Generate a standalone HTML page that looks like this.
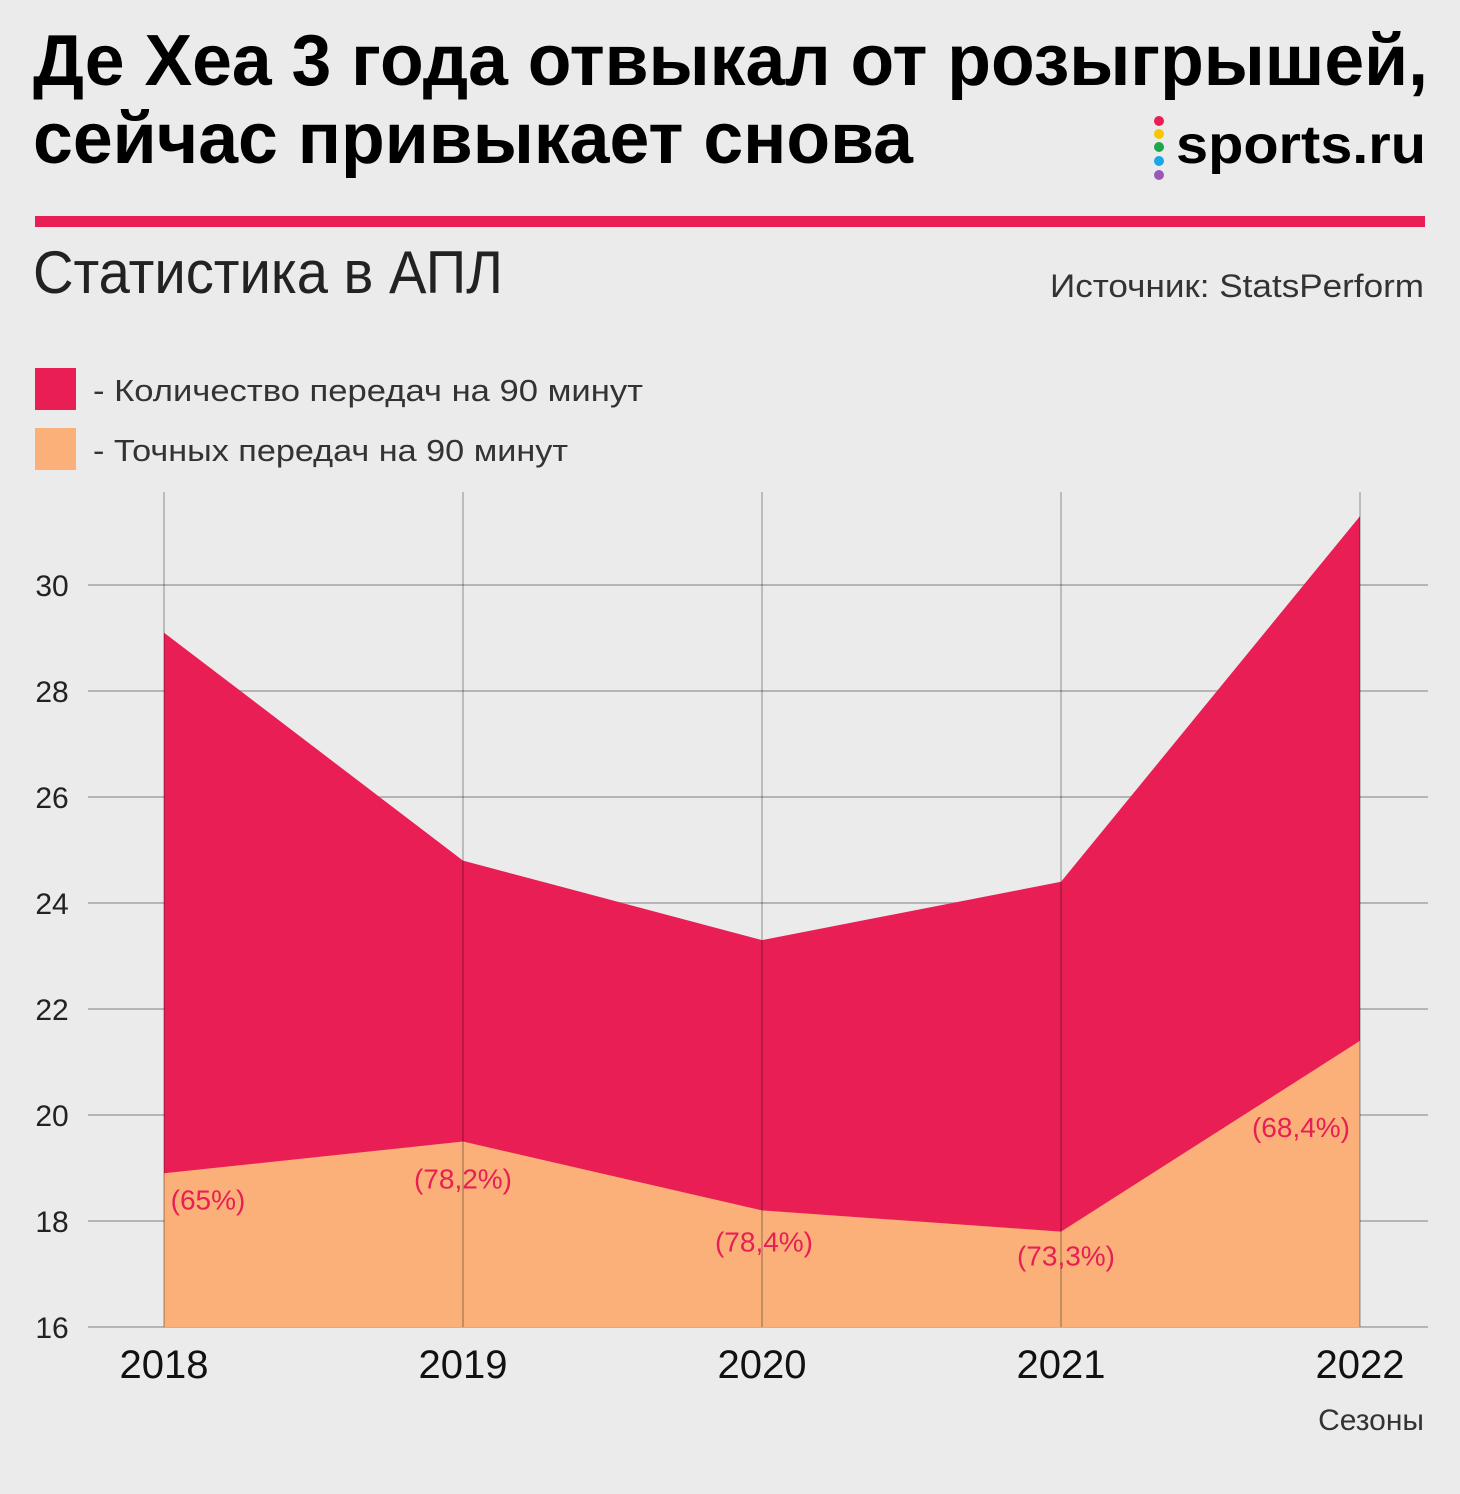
<!DOCTYPE html>
<html><head><meta charset="utf-8"><style>
html,body{margin:0;padding:0;background:#ebebeb;}
svg{display:block;font-family:"Liberation Sans","DejaVu Sans",sans-serif;}
</style></head><body>
<svg id="chart" width="1460" height="1494" viewBox="0 0 1460 1494">
<rect width="1460" height="1494" fill="#ebebeb"/>
<text x="33" y="85" font-size="72" font-weight="bold" textLength="1395" lengthAdjust="spacingAndGlyphs" fill="#000">Де Хеа 3 года отвыкал от розыгрышей,</text>
<text x="33" y="163" font-size="72" font-weight="bold" textLength="880" lengthAdjust="spacingAndGlyphs" fill="#000">сейчас привыкает снова</text>
<g>
<circle cx="1159" cy="121" r="5" fill="#e81e55"/><circle cx="1159" cy="134" r="5" fill="#f7c600"/><circle cx="1159" cy="147" r="5" fill="#1fa64a"/><circle cx="1159" cy="161" r="5" fill="#1aa7e8"/><circle cx="1159" cy="175" r="5" fill="#9b59b6"/>
<text x="1176" y="163" font-size="54" font-weight="bold" textLength="250" lengthAdjust="spacingAndGlyphs" fill="#000">sports.ru</text>
</g>
<rect x="35" y="216" width="1390" height="11" fill="#e81e55"/>
<text x="33" y="293" font-size="60" textLength="470" lengthAdjust="spacingAndGlyphs" fill="#222">Статистика в АПЛ</text>
<text x="1050" y="297" font-size="32" textLength="374" lengthAdjust="spacingAndGlyphs" fill="#333">Источник: StatsPerform</text>
<rect x="35" y="368" width="41" height="42" fill="#e81e55"/>
<text x="93" y="401" font-size="31" textLength="550" lengthAdjust="spacingAndGlyphs" fill="#333">- Количество передач на 90 минут</text>
<rect x="35" y="428" width="41" height="42" fill="#fbb07a"/>
<text x="93" y="461" font-size="31" textLength="475" lengthAdjust="spacingAndGlyphs" fill="#333">- Точных передач на 90 минут</text>
<g id="plot"></g>
<text x="1424" y="1430" font-size="30" text-anchor="end" fill="#333">Сезоны</text>
</svg>
<script>
const seasons = ["2018","2019","2020","2021","2022"];
const totalPasses = [29.1, 24.8, 23.3, 24.4, 31.3];
const accuratePasses = [18.9, 19.5, 18.2, 17.8, 21.4];
const accuracyLabels = ["(65%)","(78,2%)","(78,4%)","(73,3%)","(68,4%)"];
const yTicks = [16,18,20,22,24,26,28,30];

const NS="http://www.w3.org/2000/svg";
const plotG=document.getElementById('plot');
const x0=164, x1=1360, yMin=16, yMax=30, py0=1327, py1=585;
const xs=i=>x0+(x1-x0)*i/(seasons.length-1);
const ys=v=>py0-(v-yMin)*(py0-py1)/(yMax-yMin);
function mk(tag,attrs){const e=document.createElementNS(NS,tag);for(const k in attrs)e.setAttribute(k,attrs[k]);plotG.appendChild(e);return e;}

yTicks.forEach(t=>{
  const l=mk('line',{x1:88,x2:1428,y1:ys(t),y2:ys(t),stroke:'#b5b5b5','stroke-width':2});
  
  
  const tx=mk('text',{x:52,y:ys(t)+11,'font-size':30,'text-anchor':'middle',fill:'#222'});
  tx.textContent=t;
  
  
});

const topPts=totalPasses.map((v,i)=>xs(i)+','+ys(v)).join(' ');
const red=mk('polygon',{points:topPts+' '+xs(seasons.length-1)+','+py0+' '+xs(0)+','+py0,fill:'#e81e55'});


const botPts=accuratePasses.map((v,i)=>xs(i)+','+ys(v)).join(' ');
const org=mk('polygon',{points:botPts+' '+xs(seasons.length-1)+','+py0+' '+xs(0)+','+py0,fill:'#fbb07a'});



seasons.forEach((s,i)=>{
  const v=mk('line',{x1:xs(i),x2:xs(i),y1:492,y2:py0,stroke:'#000','stroke-opacity':0.2,'stroke-width':2});
  
  
  const tx=mk('text',{x:xs(i),y:1378,'font-size':40,'text-anchor':'middle',fill:'#111'});
  tx.textContent=s;
  
  
});
const lblDx=[44,0,2,5,-59], lblDy=[36,47,41,34,96];
accuracyLabels.forEach((lab,i)=>{
  const t=mk('text',{x:xs(i)+lblDx[i],y:ys(accuratePasses[i])+lblDy[i],'font-size':28,'text-anchor':'middle',fill:'#e81e55'});
  t.textContent=lab;
  
  
});
</script>
</body></html>
